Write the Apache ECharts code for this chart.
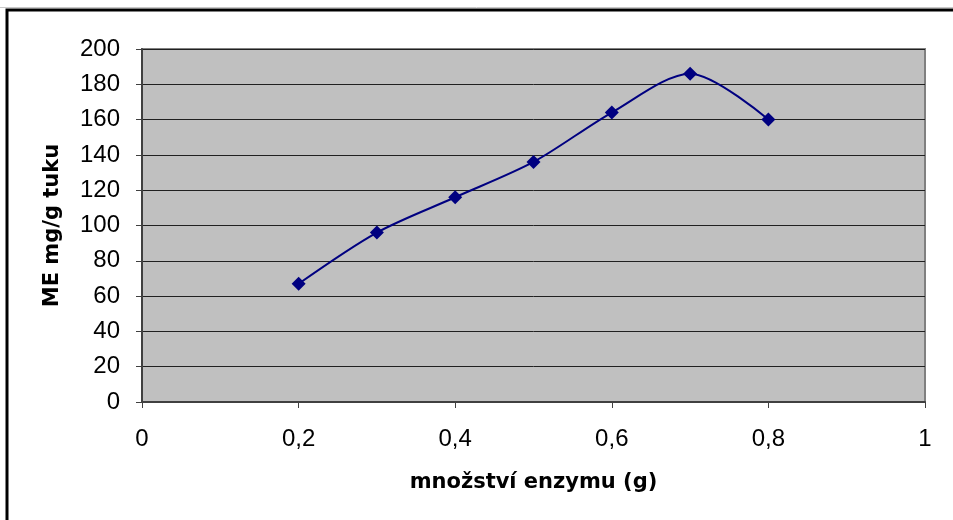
<!DOCTYPE html>
<html>
<head>
<meta charset="utf-8">
<script src="https://cdn.jsdelivr.net/npm/echarts@6/dist/echarts.min.js"></script>
<style>
  html, body { margin: 0; padding: 0; background: #fff; }
  #chart { width: 953px; height: 520px; }
</style>
</head>
<body>
<div id="chart"></div>
<script>
// Amount of enzyme (g) and the resulting ME yield (mg per g of fat)
const enzymeAmount = [0.2, 0.3, 0.4, 0.5, 0.6, 0.7, 0.8];
const meYield = [67, 96, 116, 136, 164, 186, 160];

const xTitle = 'množství enzymu (g)';
const yTitle = 'ME mg/g tuku';

const chart = echarts.init(document.getElementById('chart'), null, { renderer: 'canvas' });

const fontFamily = '"Liberation Sans", Arial, sans-serif';
const titleFont = '"DejaVu Sans", sans-serif';

chart.setOption({
  animation: false,
  backgroundColor: '#ffffff',
  graphic: [
    { type: 'line', shape: { x1: 0, y1: 7.5, x2: 953, y2: 7.5 }, style: { stroke: '#c8c8c8', lineWidth: 1 } },
    { type: 'rect', shape: { x: 7, y: 10, width: 1000, height: 600 }, style: { fill: 'none', stroke: '#000', lineWidth: 3 } }
  ],
  grid: {
    left: 142, top: 49, right: 28, bottom: 118,
    show: true,
    backgroundColor: '#c0c0c0',
    borderColor: '#808080',
    borderWidth: 2
  },
  xAxis: {
    type: 'value',
    min: 0, max: 1, interval: 0.2,
    name: xTitle,
    nameLocation: 'middle',
    nameGap: 70,
    nameTextStyle: { fontFamily: titleFont, fontWeight: 'bold', fontSize: 21, color: '#000' },
    axisLine: { show: true, onZero: false, lineStyle: { color: '#404040', width: 2 } },
    axisTick: { show: true, inside: false, length: 6, lineStyle: { color: '#404040', width: 1 } },
    axisLabel: {
      margin: 25, fontSize: 24, color: '#000', fontFamily,
      formatter: v => String(Math.round(v * 10) / 10).replace('.', ',')
    },
    splitLine: { show: false }
  },
  yAxis: {
    type: 'value',
    min: 0, max: 200, interval: 20,
    name: yTitle,
    nameLocation: 'middle',
    nameRotate: 90,
    nameGap: 79,
    nameTextStyle: { fontFamily: titleFont, fontWeight: 'bold', fontSize: 21, color: '#000' },
    axisLine: { show: true, lineStyle: { color: '#404040', width: 2 } },
    axisTick: { show: true, inside: false, length: 6, lineStyle: { color: '#404040', width: 1 } },
    axisLabel: { margin: 22, fontSize: 24, color: '#000', fontFamily },
    splitLine: { show: true, lineStyle: { color: '#202020', width: 1 } }
  },
  series: [{
    type: 'line',
    data: enzymeAmount.map((x, i) => [x, meYield[i]]),
    smooth: 0.3,
    symbol: 'diamond',
    symbolSize: 14,
    lineStyle: { color: '#000080', width: 2 },
    itemStyle: { color: '#000080' }
  }]
});
</script>
</body>
</html>
